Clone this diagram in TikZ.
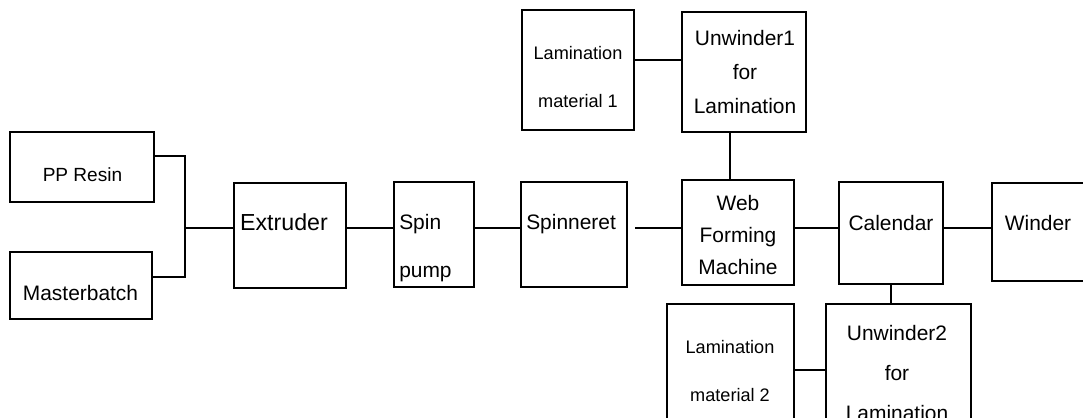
\documentclass[tikz,border=0pt]{standalone}
\usepackage{fontspec}
\setmainfont{Liberation Sans}
\newcommand\mkbox[5]{\node[boxst, minimum width={(#4-#2)*0.75pt}, minimum height={(#5-#3)*0.75pt}] (#1) at ({(#2+#4)/2},{(#3+#5)/2}) {};}
\begin{document}
\begin{tikzpicture}[x=0.75pt,y=-0.75pt,
  boxst/.style={draw,line width=1.4pt,inner sep=0pt,outer sep=0pt},
  wire/.style={line width=1.1pt},
  lbl/.style={inner sep=0pt,anchor=base,align=center,font=\fontsize{15.7}{25.5}\selectfont},
  small/.style={font=\fontsize{13.6}{36}\selectfont}]
\useasboundingbox (0,0) rectangle (1083,418);
\clip (0,0) rectangle (1083,418);
% boxes
\mkbox{pp}{10}{132}{154}{202}
\mkbox{mb}{10}{252}{152}{319}
\mkbox{ext}{234}{183}{346}{288}
\mkbox{sp}{394}{182}{474}{287}
\mkbox{spn}{521}{182}{627}{287}
\mkbox{wfm}{682}{180}{794}{285}
\mkbox{lmone}{522}{10}{634}{130}
\mkbox{uwone}{682}{12}{806}{132}
\mkbox{cal}{839}{182}{943}{284}
\mkbox{win}{992}{183}{1095}{281}
\mkbox{lmtwo}{667}{304}{794}{440}
\mkbox{uwtwo}{826}{304}{971}{440}
% labels (anchor base = baseline of the last line)
\node[lbl,font=\fontsize{14.3}{20}\selectfont] (tpp) at (82.5,181) {PP Resin};
\node[lbl] (tmb) at (80.5,300) {Masterbatch};
\node[lbl,font=\fontsize{17.4}{20}\selectfont] (text) at (284,230) {Extruder};
\node[lbl,anchor=base west,align=left,font=\fontsize{15.7}{36}\selectfont] (tsp) at (399,277) {Spin\\pump};
\node[lbl,anchor=base west] (tspn) at (526,229) {Spinneret};
\node[lbl,font=\fontsize{15.7}{24}\selectfont] (twfm) at (738,274) {Web\\Forming\\Machine};
\node[lbl] (tcal) at (891,230) {Calendar};
\node[lbl] (twin) at (1038,230) {Winder};
\node[lbl,small] (tlmone) at (578,107) {Lamination\\material 1};
\node[lbl] (tuwone) at (745,113) {Unwinder1\\for\\Lamination};
\node[lbl,small] (tlmtwo) at (730,401) {Lamination\\material 2};
\node[lbl,font=\fontsize{15.7}{30}\selectfont] (tuwtwo) at (897,420) {Unwinder2\\for\\Lamination};
% connectors
\coordinate (ja) at (185,156);
\coordinate (jb) at (185,277);
\coordinate (jc) at (185,228);
\coordinate (row) at (0,228);
\coordinate (rowa) at (0,60);
\coordinate (rowb) at (0,370);
\coordinate (cola) at (730,0);
\draw[wire] (ja -| pp.east) -- (ja) -- (jb) -- (jb -| mb.east);
\draw[wire] (jc) -- (jc -| ext.west);
\draw[wire] (ext.east |- row) -- (sp.west |- row);
\draw[wire] (sp.east |- row) -- (spn.west |- row);
\draw[wire,shorten <=6pt] (spn.east |- row) -- (wfm.west |- row);
\draw[wire] (wfm.east |- row) -- (cal.west |- row);
\draw[wire] (cal.east |- row) -- (win.west |- row);
\draw[wire] (lmone.east |- rowa) -- (uwone.west |- rowa);
\draw[wire] (cola |- uwone.south) -- (cola |- wfm.north);
\draw[wire] (cal.south) -- (cal.south |- uwtwo.north);
\draw[wire] (lmtwo.east |- rowb) -- (uwtwo.west |- rowb);
\end{tikzpicture}
\end{document}
